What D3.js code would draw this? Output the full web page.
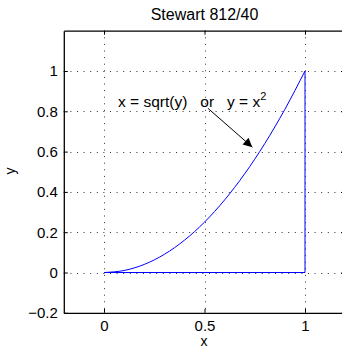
<!DOCTYPE html>
<html>
<head>
<meta charset="utf-8">
<script src="https://cdn.jsdelivr.net/npm/d3@7"></script>
<style>
  body { margin: 0; background: #fff; }
  text { font-family: "Liberation Sans", Arial, sans-serif; fill: #000; }
</style>
</head>
<body>
<script>
// chart size
const width = 342;
const height = 354;

// data
const curveX = [0, 0.1, 0.2, 0.3, 0.4, 0.5, 0.6, 0.7, 0.8, 0.9, 1];
const curveY = [0, 0.01, 0.04, 0.09, 0.16, 0.25, 0.36, 0.49, 0.64, 0.81, 1];
const edgeX = [1, 1, 0];
const edgeY = [1, 0, 0];
const xTicks = [0, 0.5, 1];
const yTicks = [-0.2, 0, 0.2, 0.4, 0.6, 0.8, 1];
const arrowFrom = [0.517, 0.815];
const arrowTo = [0.738, 0.622];
const notePos = [0.07, 0.82];

const svg = d3.select("body")
    .append("svg")
    .attr("width", width)
    .attr("height", height);

const x = d3.scaleLinear().domain([-0.2, 1.2]).range([63.8, 345.2]);
const y = d3.scaleLinear().domain([-0.2, 1.2]).range([312.8, 30.7]);

// grid
const grid = svg.append("g").attr("stroke", "#333").attr("stroke-width", 1)
    .attr("stroke-dasharray", "1,5.6");
grid.selectAll(".gx").data(xTicks).join("line")
    .attr("x1", d => Math.round(x(d)) + 0.5).attr("x2", d => Math.round(x(d)) + 0.5)
    .attr("y1", y(1.2)).attr("y2", y(-0.2));
grid.selectAll(".gy").data(yTicks.filter(d => d > -0.2)).join("line")
    .attr("y1", d => Math.round(y(d)) + 0.5).attr("y2", d => Math.round(y(d)) + 0.5)
    .attr("x1", x(-0.2)).attr("x2", x(1.2));

// axes (inner ticks, box)
const xAxis = d3.axisBottom(x).tickValues(xTicks).tickSizeInner(-4).tickSizeOuter(0)
    .tickPadding(8).tickFormat(d3.format("~g"));
const yAxis = d3.axisLeft(y).tickValues(yTicks).tickSizeInner(-4).tickSizeOuter(0)
    .tickPadding(6).tickFormat(d => d < 0 ? "\u2212" + Math.abs(d) : d);

svg.append("g").attr("transform", `translate(0, ${y(-0.2)})`).call(xAxis);
svg.append("g").attr("transform", `translate(${x(-0.2)}, 0)`).call(yAxis);
svg.append("g").attr("transform", `translate(0, ${y(1.2)})`)
    .call(d3.axisTop(x).tickValues(xTicks).tickSizeInner(-4).tickSizeOuter(0).tickFormat(""));
svg.append("g").attr("transform", `translate(${x(1.2)}, 0)`)
    .call(d3.axisRight(y).tickValues(yTicks).tickSizeInner(-4).tickSizeOuter(0).tickFormat(""));

svg.selectAll(".domain").attr("stroke", "#000").attr("stroke-width", 1.3);
svg.selectAll(".tick line").attr("stroke", "#000");
svg.selectAll(".tick text").attr("font-size", 15).attr("font-family", "Liberation Sans, Arial, sans-serif");

// curves
const line = d3.line().x(d => x(d[0])).y(d => y(d[1])).curve(d3.curveMonotoneX);
svg.append("path")
    .datum(d3.zip(curveX, curveY))
    .attr("d", line)
    .attr("fill", "none").attr("stroke", "#0000ff").attr("stroke-width", 1);
svg.append("path")
    .datum(d3.zip(edgeX, edgeY))
    .attr("d", d3.line().x(d => x(d[0])).y(d => y(d[1])))
    .attr("fill", "none").attr("stroke", "#0000ff").attr("stroke-width", 1);

// annotation
svg.append("defs").append("marker")
    .attr("id", "arrow").attr("viewBox", "0 0 10 10")
    .attr("refX", 10).attr("refY", 5)
    .attr("markerWidth", 11).attr("markerHeight", 9)
    .attr("markerUnits", "userSpaceOnUse")
    .attr("orient", "auto")
    .append("path").attr("d", "M0,0 L10,5 L0,10 z").attr("fill", "#000");

svg.append("line")
    .attr("x1", x(arrowFrom[0])).attr("y1", y(arrowFrom[1]))
    .attr("x2", x(arrowTo[0])).attr("y2", y(arrowTo[1]))
    .attr("stroke", "#000").attr("stroke-width", 1)
    .attr("marker-end", "url(#arrow)");

const note = svg.append("text")
    .attr("x", x(notePos[0])).attr("y", y(notePos[1]))
    .attr("font-size", 15.5)
    .attr("xml:space", "preserve")
    .text("x = sqrt(y)   or   y = x");
note.append("tspan").attr("dy", -7).attr("font-size", 11).text("2");

// titles
svg.append("text")
    .attr("x", 204.5).attr("y", 20)
    .attr("text-anchor", "middle").attr("font-size", 16)
    .text("Stewart 812/40");
svg.append("text")
    .attr("x", 204).attr("y", 346)
    .attr("text-anchor", "middle").attr("font-size", 14)
    .text("x");
svg.append("text")
    .attr("transform", "translate(15, 171) rotate(-90)")
    .attr("text-anchor", "middle").attr("font-size", 14)
    .text("y");
</script>
</body>
</html>
